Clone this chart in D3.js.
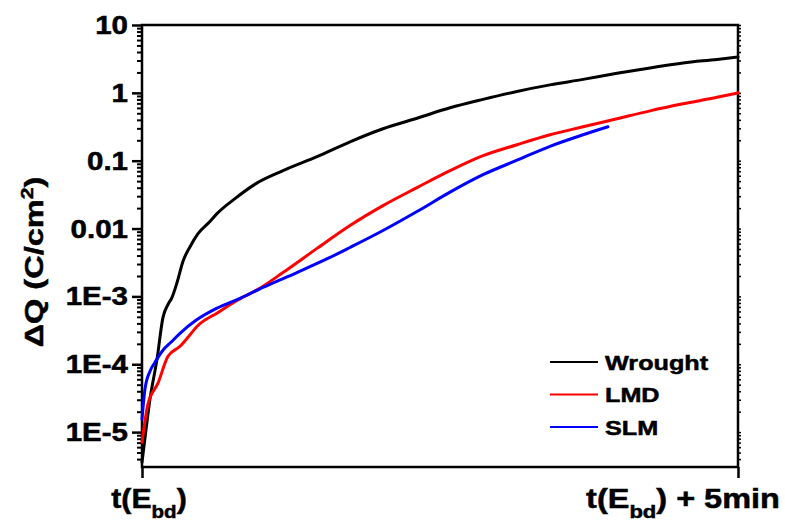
<!DOCTYPE html>
<meta charset="UTF-8">
<head>
<title>Delta Q</title>
<style>
body { margin: 0; background: #fff; }
svg text { font-family: "Liberation Sans", Arial, sans-serif; font-weight: bold; fill: #000; stroke: #000; stroke-width: 0.5px; }
.curve { fill: none; stroke-width: 3px; stroke-linejoin: round; stroke-linecap: round; }
</style>
</head>
<body>
<script src="https://d3js.org/d3.v7.min.js"></script>
<script>

// time in minutes after t(Ebd), charge in C/cm2
var wroughtT = [0, 0.034, 0.067, 0.126, 0.176, 0.218, 0.252, 0.294, 0.344, 0.403, 0.47, 0.57, 0.629, 0.78, 0.956, 1.183, 1.468, 1.745, 2.022, 2.307, 2.584, 2.861, 3.146, 3.423, 3.7, 3.985, 4.262, 4.539, 4.824, 5.0];
var wroughtQ = [3.6e-6, 1.1e-5, 3.06e-5, 1.19e-4, 4.9e-4, 7.6e-4, 9.7e-4, 1.6e-3, 3.3e-3, 5.4e-3, 8.4e-3, 0.0127, 0.0166, 0.0276, 0.0459, 0.0713, 0.1145, 0.19, 0.296, 0.422, 0.602, 0.802, 1.05, 1.31, 1.58, 1.94, 2.33, 2.76, 3.11, 3.38];

var lmdT = [0, 0.05, 0.134, 0.218, 0.319, 0.386, 0.461, 0.638, 0.797, 0.973, 1.183, 1.468, 1.745, 2.022, 2.307, 2.584, 2.861, 3.146, 3.423, 3.7, 3.985, 4.262, 4.539, 4.824, 5.0];
var lmdQ = [7.1e-6, 2.58e-5, 5.26e-5, 1.31e-4, 1.84e-4, 2.5e-4, 3.6e-4, 5.8e-4, 8.7e-4, 1.27e-3, 2.25e-3, 5.1e-3, 0.0111, 0.0218, 0.0401, 0.0713, 0.1186, 0.172, 0.241, 0.316, 0.415, 0.543, 0.689, 0.859, 1.0];

var slmT = [0, 0.025, 0.067, 0.109, 0.176, 0.243, 0.319, 0.453, 0.629, 0.822, 1.015, 1.3, 1.577, 1.745, 2.022, 2.307, 2.584, 2.861, 3.146, 3.423, 3.7, 3.909];
var slmQ = [1.55e-5, 4.3e-5, 7.9e-5, 1.07e-4, 1.61e-4, 2.11e-4, 2.86e-4, 4.44e-4, 6.7e-4, 9.35e-4, 1.36e-3, 2.25e-3, 3.75e-3, 5.26e-3, 9.35e-3, 0.0178, 0.0344, 0.0622, 0.1016, 0.163, 0.241, 0.316];

var seriesNames = ["Wrought", "LMD", "SLM"];
var seriesColors = ["#000000", "#ff0000", "#0000ff"];

var yTicks = [1e-5, 1e-4, 1e-3, 0.01, 0.1, 1, 10];
var yTickLabels = ["1E-5", "1E-4", "1E-3", "0.01", "0.1", "1", "10"];
var xTicks = [0, 5];

var width = 785, height = 521;
var pLeft = 142, pRight = 738, pTop = 25, pBottom = 467;

var svg = d3.select("body").append("svg")
    .attr("width", width)
    .attr("height", height);

var x = d3.scaleLinear().domain([0, 5]).range([pLeft, pRight]);
var y = d3.scaleLog().domain([3.06e-6, 10]).range([pBottom, pTop]);

// minor ticks 2..9 in each decade
var minor = [];
for (var k = -6; k < 1; k++) {
  for (var m = 2; m <= 9; m++) {
    var v = m * Math.pow(10, k);
    if (v >= y.domain()[0] && v <= 10) minor.push(v);
  }
}

// left axis: major + minor ticks outward
svg.append("g")
    .attr("transform", "translate(" + pLeft + ",0)")
    .call(d3.axisLeft(y).tickValues(yTicks).tickSize(10).tickFormat(""))
    .call(function(g) { g.select(".domain").remove(); })
    .selectAll("line").attr("stroke-width", 2.5);

svg.append("g")
    .attr("transform", "translate(" + pLeft + ",0)")
    .call(d3.axisLeft(y).tickValues(minor).tickSize(5).tickFormat(""))
    .call(function(g) { g.select(".domain").remove(); })
    .selectAll("line").attr("stroke-width", 2);

// right axis, small ticks
svg.append("g")
    .attr("transform", "translate(" + pRight + ",0)")
    .call(d3.axisRight(y).tickValues(yTicks.concat(minor)).tickSize(3).tickFormat(""))
    .call(function(g) { g.select(".domain").remove(); })
    .selectAll("line").attr("stroke-width", 1.5);

// bottom ticks
svg.append("g")
    .attr("transform", "translate(0," + pBottom + ")")
    .call(d3.axisBottom(x).tickValues(xTicks).tickSize(11).tickFormat(""))
    .call(function(g) { g.select(".domain").remove(); })
    .selectAll("line").attr("stroke-width", 2.5);

// frame
svg.append("rect")
    .attr("x", pLeft).attr("y", pTop)
    .attr("width", pRight - pLeft).attr("height", pBottom - pTop)
    .attr("fill", "none").attr("stroke", "#000").attr("stroke-width", 2.5);

// tick labels
svg.selectAll(".ylab").data(yTicks).enter().append("text")
    .attr("class", "ylab")
    .attr("transform", function(d) { return "translate(128," + y(d) + ") scale(1.18,1)"; })
    .attr("dy", "0.36em")
    .attr("text-anchor", "end")
    .style("font-size", "25px")
    .text(function(d, i) { return yTickLabels[i]; });

// curves
var line = d3.line()
    .x(function(d) { return x(d[0]); })
    .y(function(d) { return y(d[1]); })
    .curve(d3.curveMonotoneX);

var series = [
  d3.zip(wroughtT, wroughtQ),
  d3.zip(lmdT, lmdQ),
  d3.zip(slmT, slmQ)
];

svg.selectAll("path.curve").data(series).enter().append("path")
    .attr("class", "curve")
    .attr("stroke", function(d, i) { return seriesColors[i]; })
    .attr("d", line);

// legend
var legend = svg.selectAll(".leg").data(seriesNames).enter().append("g")
    .attr("class", "leg")
    .attr("transform", function(d, i) { return "translate(550," + (362 + i * 32.5) + ")"; });

legend.append("line")
    .attr("x1", 0).attr("x2", 48)
    .attr("stroke", function(d, i) { return seriesColors[i]; })
    .attr("stroke-width", 2);

legend.append("text")
    .attr("transform", "translate(55,0) scale(1.2,1)")
    .attr("dy", "0.36em")
    .style("font-size", "21px")
    .text(function(d) { return d; });

// x labels
function xLabel(px, tail, sx) {
  var t = svg.append("text")
      .attr("transform", "translate(" + px + ",508) scale(" + sx + ",1)")
      .attr("text-anchor", "middle")
      .style("font-size", "28px");
  t.append("tspan").text("t(E");
  t.append("tspan").attr("dy", 10).style("font-size", "19px").text("bd");
  t.append("tspan").attr("dy", -10).text(")" + tail);
}
xLabel(x(0) + 7, "", 1.08);
xLabel(x(5) - 55, " + 5min", 1.16);

// y label
var yl = svg.append("text")
    .attr("transform", "translate(43,262) rotate(-90) scale(1.25,1)")
    .attr("text-anchor", "middle")
    .style("font-size", "26px");
yl.append("tspan").text("\u0394Q (C/cm");
yl.append("tspan").attr("dy", -10).style("font-size", "17px").text("2");
yl.append("tspan").attr("dy", 10).text(")");

</script>
</body>
</html>
